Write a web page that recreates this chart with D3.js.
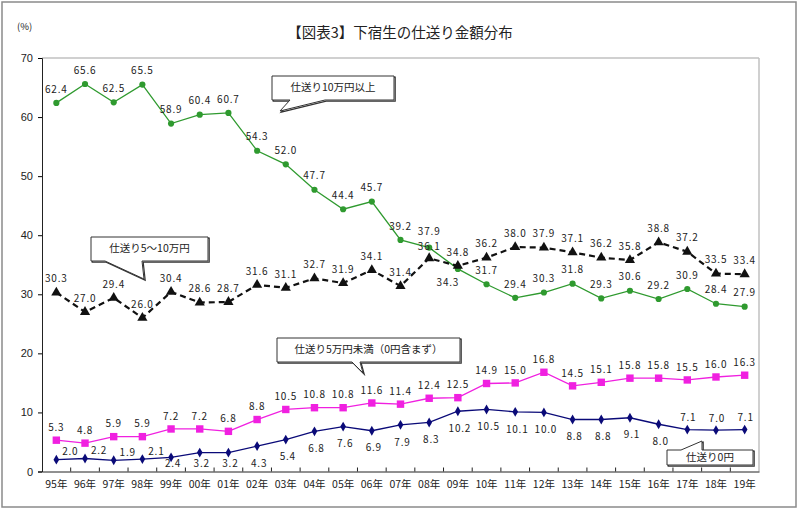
<!DOCTYPE html>
<html>
<head>
<meta charset="utf-8">
<script src="https://cdn.jsdelivr.net/npm/d3@7"></script>
<style>
  body { margin: 0; background: #fff; }
  svg text { font-family: "Noto Sans CJK JP", "Noto Sans", sans-serif; fill: #222; }
</style>
</head>
<body>
<svg id="chart" width="800" height="511"></svg>
<script>
// data
const years = ["95年","96年","97年","98年","99年","00年","01年","02年","03年","04年","05年","06年","07年",
               "08年","09年","10年","11年","12年","13年","14年","15年","16年","17年","18年","19年"];
const over10 = [62.4,65.6,62.5,65.5,58.9,60.4,60.7,54.3,52.0,47.7,44.4,45.7,39.2,37.9,34.3,31.7,29.4,30.3,31.8,29.3,30.6,29.2,30.9,28.4,27.9];
const from5to10 = [30.3,27.0,29.4,26.0,30.4,28.6,28.7,31.6,31.1,32.7,31.9,34.1,31.4,36.1,34.8,36.2,38.0,37.9,37.1,36.2,35.8,38.8,37.2,33.5,33.4];
const under5 = [5.3,4.8,5.9,5.9,7.2,7.2,6.8,8.8,10.5,10.8,10.8,11.6,11.4,12.4,12.5,14.9,15.0,16.8,14.5,15.1,15.8,15.8,15.5,16.0,16.3];
const zero = [2.0,2.2,1.9,2.1,2.4,3.2,3.2,4.3,5.4,6.8,7.6,6.9,7.9,8.3,10.2,10.5,10.1,10.0,8.8,8.8,9.1,8.0,7.1,7.0,7.1];
const yTicks = [0,10,20,30,40,50,60,70];

const svg = d3.select("#chart");
const m = {left: 42, top: 58, right: 759, bottom: 471.5};

// outer frame
svg.append("rect").attr("x", 2).attr("y", 2).attr("width", 794).attr("height", 505)
   .attr("fill", "none").attr("stroke", "#8a8a8a").attr("stroke-width", 1.5);

svg.append("text").attr("x", 400).attr("y", 38).attr("text-anchor", "middle")
   .style("font-size", "14.5px").style("font-weight", "400").text("【図表3】下宿生の仕送り金額分布");
svg.append("text").attr("x", 17).attr("y", 30).style("font-size", "9.5px").text("(%)");

const x = d3.scaleBand().domain(years).range([m.left, m.right]);
const y = d3.scaleLinear().domain([0, 70]).range([m.bottom, m.top]);
const cx = (d, i) => x(years[i]) + x.bandwidth() / 2;

// plot frame: light on top/right
svg.append("line").attr("x1", m.left).attr("x2", m.right).attr("y1", m.top).attr("y2", m.top)
   .attr("stroke", "#c0c0c0").attr("stroke-width", 1.5);
svg.append("line").attr("x1", m.right).attr("x2", m.right).attr("y1", m.top).attr("y2", m.bottom)
   .attr("stroke", "#c0c0c0").attr("stroke-width", 1.5);

const yAxis = svg.append("g").attr("transform", `translate(${m.left},0)`)
   .call(d3.axisLeft(y).tickValues(yTicks).tickSize(4).tickPadding(5));
yAxis.select(".domain").attr("stroke", "#222");
yAxis.selectAll("text").style("font-size", "11px").style("font-family", "Liberation Sans, Arial, sans-serif");

const xAxis = svg.append("g").attr("transform", `translate(0,${m.bottom})`)
   .call(d3.axisBottom(x).tickSize(0).tickPadding(9));
xAxis.select(".domain").attr("stroke", "#222");
xAxis.selectAll("text").style("font-size", "10.5px");
// tick marks on category boundaries, pointing inward
svg.append("g").selectAll("line").data(years.slice(1)).join("line")
   .attr("x1", d => x(d)).attr("x2", d => x(d))
   .attr("y1", m.bottom).attr("y2", m.bottom - 4).attr("stroke", "#222");

const line = d3.line().x(cx).y(d => y(d));

function series(vals, color, opts) {
  const g = svg.append("g");
  g.append("path").datum(vals).attr("d", line).attr("fill", "none")
   .attr("stroke", color).attr("stroke-width", opts.width || 1.3)
   .attr("stroke-dasharray", opts.dash || null);
  g.selectAll("path.mk").data(vals).join("path").attr("class", "mk")
   .attr("transform", (d, i) => `translate(${cx(d, i)},${y(d)})`)
   .attr("d", d3.symbol().type(opts.symbol).size(opts.size))
   .attr("fill", color);
  g.selectAll("text").data(vals).join("text")
   .attr("x", (d, i) => cx(d, i) + opts.pos(i)[0])
   .attr("y", (d, i) => Math.min(y(d) + opts.pos(i)[1], 464))
   .attr("text-anchor", "middle").attr("dominant-baseline", "middle")
   .style("font-size", "10px").style("letter-spacing", "0.8px")
   .text(d => d.toFixed(1));
}

series(over10, "#2f9a2f", {symbol: d3.symbolCircle, size: 30,
  pos: i => i === 14 ? [-10, 14] : (i === 13 ? [0, -15] : [0, -13])});
series(from5to10, "#111", {symbol: d3.symbolTriangle, size: 45, width: 2.2, dash: "6,4",
  pos: i => i === 13 ? [0, -11] : [0, -13]});
series(under5, "#f020e0", {symbol: d3.symbolSquare, size: 55,
  pos: i => [0, -12]});
series(zero, "#0a0a78", {symbol: d3.symbolDiamond, size: 28,
  pos: i => i < 4 ? [14, -7] : (i > 21 ? [1, -11] : [2, 18])});

// callout boxes
const callouts = [
  {text: "仕送り10万円以上", x: 272, y: 76, w: 122, h: 24, tail: [[290, 100], [280, 111], [325, 100]]},
  {text: "仕送り5～10万円", x: 91, y: 237, w: 117, h: 24, tail: [[105, 261], [144, 279], [142, 261]]},
  {text: "仕送り5万円未満（0円含まず）", x: 277, y: 338, w: 183, h: 24, tail: [[352, 362], [363, 373], [360, 362]]},
  {text: "仕送り0円", x: 667, y: 450, w: 86, h: 15, tail: [[681, 450], [702, 441], [702, 450]]}
];
const cg = svg.append("g");
callouts.forEach(c => {
  const p = d3.path();
  const top = c.tail[0][1] <= c.y + 0.5;
  p.moveTo(c.x, c.y);
  if (top) { p.lineTo(c.tail[0][0], c.y); p.lineTo(c.tail[1][0], c.tail[1][1]); p.lineTo(c.tail[2][0], c.y); }
  p.lineTo(c.x + c.w, c.y);
  p.lineTo(c.x + c.w, c.y + c.h);
  if (!top) { p.lineTo(c.tail[2][0], c.y + c.h); p.lineTo(c.tail[1][0], c.tail[1][1]); p.lineTo(c.tail[0][0], c.y + c.h); }
  p.lineTo(c.x, c.y + c.h);
  p.closePath();
  // shadow on bottom/right edge
  cg.append("path").attr("d", p.toString()).attr("transform", "translate(1.2,1.2)")
    .attr("fill", "none").attr("stroke", "#333").attr("stroke-width", 1.2);
  cg.append("path").attr("d", p.toString()).attr("fill", "#fff").attr("stroke", "#333").attr("stroke-width", 1);
  cg.append("text").attr("x", c.x + c.w / 2).attr("y", c.y + c.h / 2 + 0.5)
    .attr("text-anchor", "middle").attr("dominant-baseline", "middle")
    .style("font-size", "10.5px").text(c.text);
});
</script>
</body>
</html>
